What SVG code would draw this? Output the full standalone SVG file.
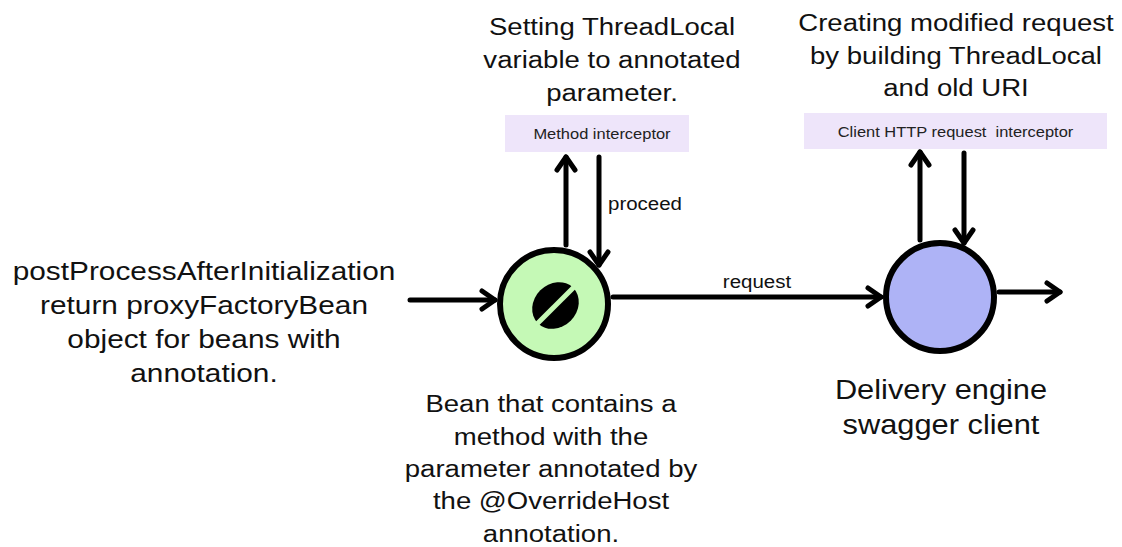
<svg xmlns="http://www.w3.org/2000/svg" width="1122" height="547" viewBox="0 0 1122 547">
<style>
text{font-family:"Liberation Sans",Arial,Helvetica,sans-serif;fill:#111;text-anchor:middle}
.big{font-size:26.5px}
.mid{font-size:24.6px}
.lab{font-size:18.3px}
.box{font-size:14.7px;fill:#222;white-space:pre}
.conn{stroke:#000;stroke-width:5;stroke-linecap:round;fill:none;marker-end:url(#arr)}
.node{stroke:#000;stroke-width:6}
</style>
<defs>
<marker id="arr" markerUnits="userSpaceOnUse" orient="auto" refX="0" refY="0" markerWidth="30" markerHeight="30" viewBox="-20 -15 30 30" overflow="visible">
<path d="M-13,-9 L0,0 L-13,9" fill="none" stroke="#000" stroke-width="5" stroke-linecap="round" stroke-linejoin="round"/>
</marker>
</defs>
<rect width="1122" height="547" fill="#fff"/>

<g id="connectors">
<line class="conn" x1="410" y1="300" x2="495" y2="300"/>
<line class="conn" x1="613" y1="297" x2="881" y2="297"/>
<line class="conn" x1="999" y1="292" x2="1060" y2="292"/>
<line class="conn" x1="566" y1="245" x2="566" y2="157"/>
<line class="conn" x1="599" y1="157" x2="599" y2="265"/>
<line class="conn" x1="920" y1="240" x2="920" y2="152"/>
<line class="conn" x1="964" y1="153" x2="964" y2="243"/>
<g transform="translate(757,0) scale(1.12,1)"><text class="lab" x="0" y="288">request</text></g>
<g transform="translate(645,0) scale(1.12,1)"><text class="lab" x="0" y="210">proceed</text></g>
</g>

<g id="input-label">
<g transform="translate(204,0) scale(1.125,1)">
<text class="big" x="0" y="280">postProcessAfterInitialization</text>
<text class="big" x="0" y="314">return proxyFactoryBean</text>
<text class="big" x="0" y="348">object for beans with</text>
<text class="big" x="0" y="382">annotation.</text>
</g>
</g>

<g id="bean-node">
<circle class="node" cx="554" cy="304" r="54" fill="#C5F9B6"/>
<g transform="translate(555.5,305.5) rotate(-45)">
<ellipse cx="0" cy="0" rx="25" ry="21.5" fill="#000"/>
<line x1="-28" y1="0" x2="28" y2="0" stroke="#C5F9B6" stroke-width="5"/>
</g>
<g transform="translate(551,0) scale(1.12,1)">
<text class="mid" x="0" y="412">Bean that contains a</text>
<text class="mid" x="0" y="445">method with the</text>
<text class="mid" x="0" y="477">parameter annotated by</text>
<text class="mid" x="0" y="509">the @OverrideHost</text>
<text class="mid" x="0" y="542">annotation.</text>
</g>
</g>

<g id="method-interceptor">
<rect x="505" y="115" width="184" height="37" fill="#EEE5FA"/>
<g transform="translate(602,0) scale(1.12,1)"><text class="box" x="0" y="139">Method interceptor</text></g>
<g transform="translate(612,0) scale(1.12,1)">
<text class="mid" x="0" y="35">Setting ThreadLocal</text>
<text class="mid" x="0" y="68">variable to annotated</text>
<text class="mid" x="0" y="101">parameter.</text>
</g>
</g>

<g id="client-interceptor">
<rect x="804" y="113" width="303" height="36" fill="#EEE5FA"/>
<g transform="translate(955.5,0) scale(1.12,1)"><text class="box" x="0" y="137">Client HTTP request  interceptor</text></g>
<g transform="translate(956,0) scale(1.12,1)">
<text class="mid" x="0" y="31">Creating modified request</text>
<text class="mid" x="0" y="64">by building ThreadLocal</text>
<text class="mid" x="0" y="96">and old URI</text>
</g>
</g>

<g id="delivery-engine">
<circle class="node" cx="940" cy="297" r="54" fill="#AEB3F6"/>
<g transform="translate(941,0) scale(1.12,1)">
<text x="0" y="399" style="font-size:27.5px">Delivery engine</text>
<text x="0" y="434" style="font-size:27.5px">swagger client</text>
</g>
</g>
</svg>
